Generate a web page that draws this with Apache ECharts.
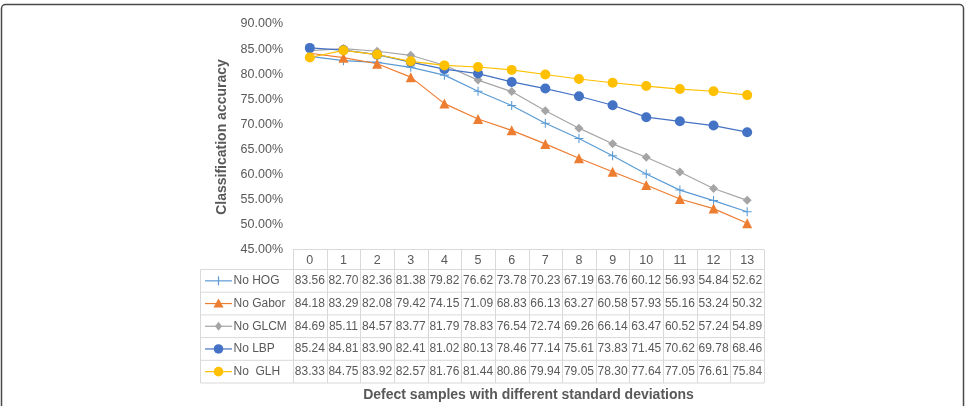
<!DOCTYPE html>
<html>
<head>
<meta charset="utf-8">
<script src="https://cdn.jsdelivr.net/npm/echarts@6/dist/echarts.min.js"></script>
<style>
  html, body { margin: 0; padding: 0; background: #fff; }
  #chart { width: 966px; height: 406px; }
</style>
</head>
<body>
<div id="chart"></div>
<script>
// data
const categories = ["0", "1", "2", "3", "4", "5", "6", "7", "8", "9", "10", "11", "12", "13"];
const noHOG = [83.56, 82.70, 82.36, 81.38, 79.82, 76.62, 73.78, 70.23, 67.19, 63.76, 60.12, 56.93, 54.84, 52.62];
const noGabor = [84.18, 83.29, 82.08, 79.42, 74.15, 71.09, 68.83, 66.13, 63.27, 60.58, 57.93, 55.16, 53.24, 50.32];
const noGLCM = [84.69, 85.11, 84.57, 83.77, 81.79, 78.83, 76.54, 72.74, 69.26, 66.14, 63.47, 60.52, 57.24, 54.89];
const noLBP = [85.24, 84.81, 83.90, 82.41, 81.02, 80.13, 78.46, 77.14, 75.61, 73.83, 71.45, 70.62, 69.78, 68.46];
const noGLH = [83.33, 84.75, 83.92, 82.57, 81.76, 81.44, 80.86, 79.94, 79.05, 78.30, 77.64, 77.05, 76.61, 75.84];
const seriesNames = ["No HOG", "No Gabor", "No GLCM", "No LBP", "No  GLH"];

const colors = ["#5B9BD5", "#ED7D31", "#A5A5A5", "#4472C4", "#FFC000"];
const plus = "path://M4.4,0H5.6V4.4H10V5.6H5.6V10H4.4V5.6H0V4.4H4.4Z";
const symbols = [plus, "triangle", "diamond", "circle", "circle"];
const symbolSizes = [9, 10, 9, 10, 10];
const allData = [noHOG, noGabor, noGLCM, noLBP, noGLH];

const textColor = "#595959";
const font = "Liberation Sans, Arial, sans-serif";

const chart = echarts.init(document.getElementById("chart"));

const option = {
  animation: false,
  grid: { left: 293, right: 202, top: 24, bottom: 156, containLabel: false },
  xAxis: {
    type: "category",
    data: categories,
    boundaryGap: true,
    axisLine: { show: false },
    axisTick: { show: false },
    axisLabel: { show: false },
    splitLine: { show: false },
  },
  yAxis: {
    type: "value",
    min: 45,
    max: 90,
    interval: 5,
    name: "Classification accuracy",
    nameLocation: "middle",
    nameGap: 64,
    nameTextStyle: { color: textColor, fontSize: 14, fontWeight: "bold", fontFamily: font },
    axisLine: { show: false },
    axisTick: { show: false },
    splitLine: { show: false },
    axisLabel: {
      color: textColor,
      fontSize: 12.5,
      fontFamily: font,
      margin: 10,
      formatter: (v) => v.toFixed(2) + "%",
    },
  },
  series: allData.map((d, i) => ({
    name: seriesNames[i],
    type: "line",
    data: d,
    symbol: symbols[i],
    symbolSize: symbolSizes[i],
    showAllSymbol: true,
    lineStyle: { color: colors[i], width: 1.2 },
    itemStyle: { color: colors[i] },
  })),
};
chart.setOption(option);

// table under the plot, placed on the category axis positions
const xs = categories.map((c, i) => chart.convertToPixel({ xAxisIndex: 0 }, i));
const colW = xs[1] - xs[0];
const tLeft = xs[0] - colW / 2;
const tRight = xs[xs.length - 1] + colW / 2;
const tTop = Math.round(chart.convertToPixel({ yAxisIndex: 0 }, 45)) - 0.5;
const headH = 20;
const rowH = 22.7;
const legLeft = 200.5;
const tBottom = tTop + headH + rowH * seriesNames.length;
const borderColor = "#D9D9D9";

const graphic = [];
const line = (x1, y1, x2, y2, stroke, w) =>
  graphic.push({
    type: "line",
    shape: { x1, y1, x2, y2 },
    style: { stroke: stroke || borderColor, lineWidth: w || 1 },
    silent: true,
  });

// horizontal borders
line(tLeft, tTop, tRight, tTop);
for (let r = 0; r <= seriesNames.length; r++) {
  const y = tTop + headH + rowH * r;
  line(legLeft, y, tRight, y);
}
// vertical borders
for (let c = 0; c <= categories.length; c++) {
  const x = Math.round(tLeft + colW * c) + 0.5;
  line(x, tTop, x, tBottom);
}
line(legLeft, tTop + headH, legLeft, tBottom);

// header labels
categories.forEach((c, i) => {
  graphic.push({
    type: "text",
    x: xs[i],
    y: tTop + headH / 2 + 1,
    style: { text: c, fill: textColor, font: "12.5px " + font, align: "center", verticalAlign: "middle" },
    silent: true,
  });
});

// rows: legend key + values
seriesNames.forEach((name, r) => {
  const yc = tTop + headH + rowH * r + rowH / 2;
  const mx = 218.5;
  line(205, yc, 232, yc, colors[r], 1.2);
  if (r === 0) {
    line(mx, yc - 4.5, mx, yc + 4.5, colors[r], 1.2);
  } else if (r === 1) {
    graphic.push({ type: "polygon", shape: { points: [[mx, yc - 5], [mx + 5, yc + 4], [mx - 5, yc + 4]] }, style: { fill: colors[r] }, silent: true });
  } else if (r === 2) {
    graphic.push({ type: "polygon", shape: { points: [[mx, yc - 4.5], [mx + 3.5, yc], [mx, yc + 4.5], [mx - 3.5, yc]] }, style: { fill: colors[r] }, silent: true });
  } else {
    graphic.push({ type: "circle", shape: { cx: mx, cy: yc, r: 4.8 }, style: { fill: colors[r] }, silent: true });
  }
  graphic.push({
    type: "text",
    x: 233.5,
    y: yc,
    style: { text: name, fill: textColor, font: "12px " + font, align: "left", verticalAlign: "middle" },
    silent: true,
  });
  allData[r].forEach((v, i) => {
    graphic.push({
      type: "text",
      x: xs[i],
      y: yc,
      style: { text: v.toFixed(2), fill: textColor, font: "12px " + font, align: "center", verticalAlign: "middle" },
      silent: true,
    });
  });
});

// axis title under the table
graphic.push({
  type: "text",
  x: (tLeft + tRight) / 2,
  y: 395,
  style: {
    text: "Defect samples with different standard deviations",
    fill: textColor,
    font: "bold 14px " + font,
    align: "center",
    verticalAlign: "middle",
  },
  silent: true,
});

// outer frame
graphic.push({
  type: "rect",
  shape: { x: 1.5, y: 4.5, width: 962, height: 440, r: 4 },
  style: { fill: null, stroke: "#4a4a4a", lineWidth: 1.5 },
  silent: true,
});

chart.setOption({ graphic });
</script>
</body>
</html>
